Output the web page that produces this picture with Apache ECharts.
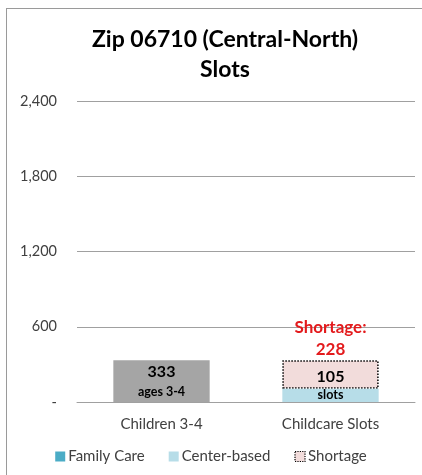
<!DOCTYPE html>
<html>
<head>
<meta charset="utf-8">
<script src="https://cdn.jsdelivr.net/npm/echarts@6/dist/echarts.min.js"></script>
<style>
  html, body { margin: 0; padding: 0; background: #fff; }
  #frame { position: absolute; left: 6px; top: 8px; width: 416px; height: 467px;
    border-top: 1px solid #9a9a9a; border-left: 1px solid #9a9a9a; }
  #mychart { position: absolute; left: 0; top: 0; width: 422px; height: 475px; }
</style>
</head>
<body>
<div id="frame"></div>
<div id="mychart"></div>
<script>
// chart data
const categories = ['Children 3-4', 'Childcare Slots']
const children = [333, null]
const familyCare = [null, 0]
const centerBased = [null, 105]
const shortage = [null, 228]
const yTicks = [0, 600, 1200, 1800, 2400]

const font = 'Lato, "Open Sans", sans-serif'
const myChart = echarts.init(document.getElementById('mychart'))

myChart.setOption({
  animation: false,
  title: {
    text: 'Zip 06710 (Central-North)\nSlots',
    left: 220,
    textAlign: 'center',
    top: 20,
    textStyle: { fontFamily: font, fontSize: 23, fontWeight: 'bold', color: '#000', lineHeight: 30 }
  },
  legend: {
    data: [
      'Family Care',
      'Center-based',
      { name: 'Shortage', itemStyle: { borderColor: '#000', borderWidth: 1.2, borderType: 'dotted' } }
    ],
    bottom: 6,
    left: 'center',
    icon: 'rect',
    itemWidth: 10,
    itemHeight: 10,
    itemGap: 24,
    textStyle: { fontFamily: font, fontSize: 15, color: '#404040', padding: [0, 0, 0, -2] }
  },
  grid: { left: 77, right: 7, top: 101, bottom: 73 },
  xAxis: {
    type: 'category',
    data: categories,
    axisTick: { show: false },
    axisLine: { lineStyle: { color: '#a0a0a0' } },
    axisLabel: { fontFamily: font, fontSize: 15, color: '#404040', margin: 15 }
  },
  yAxis: {
    type: 'value',
    min: yTicks[0],
    max: yTicks[yTicks.length - 1],
    interval: 600,
    axisLine: { show: false },
    axisTick: { show: false },
    splitLine: { lineStyle: { color: '#a0a0a0' } },
    axisLabel: {
      fontFamily: font, fontSize: 14.5, color: '#404040', margin: 20,
      formatter: v => v === 0 ? '-' : v.toLocaleString('en-US')
    }
  },
  series: [
    {
      name: 'Children',
      type: 'bar',
      stack: 'total',
      barWidth: '57%',
      data: children,
      itemStyle: { color: '#a5a5a5' },
      label: {
        show: true,
        position: 'insideTop',
        distance: 2,
        formatter: p => '{v|' + p.value + '}\n{s|ages 3-4}',
        rich: {
          v: { fontFamily: font, fontSize: 16, fontWeight: 'bold', color: '#000', lineHeight: 20 },
          s: { fontFamily: font, fontSize: 12.5, fontWeight: 'bold', color: '#000', lineHeight: 19 }
        }
      }
    },
    {
      name: 'Family Care',
      type: 'bar',
      stack: 'total',
      data: familyCare,
      itemStyle: { color: '#4bacc6' }
    },
    {
      name: 'Center-based',
      type: 'bar',
      stack: 'total',
      data: centerBased,
      itemStyle: { color: '#b7dde8' },
      z: 3,
      label: {
        show: true,
        position: 'insideBottom',
        distance: 0,
        formatter: p => '{v|' + p.value + '}\n{s|slots}',
        rich: {
          v: { fontFamily: font, fontSize: 16, fontWeight: 'bold', color: '#000', lineHeight: 22 },
          s: { fontFamily: font, fontSize: 12.5, fontWeight: 'bold', color: '#000', lineHeight: 14 }
        }
      }
    },
    {
      name: 'Shortage',
      type: 'bar',
      stack: 'total',
      data: shortage,
      z: 2,
      itemStyle: { color: '#f2dcdb', borderColor: '#000', borderWidth: 1.5, borderType: 'dotted' },
      label: {
        show: true,
        position: 'top',
        distance: 0,
        formatter: p => 'Shortage:\n' + p.value,
        fontFamily: font,
        fontSize: 17,
        fontWeight: 'bold',
        color: '#e31a1c',
        lineHeight: 22
      }
    }
  ]
})
</script>
</body>
</html>
